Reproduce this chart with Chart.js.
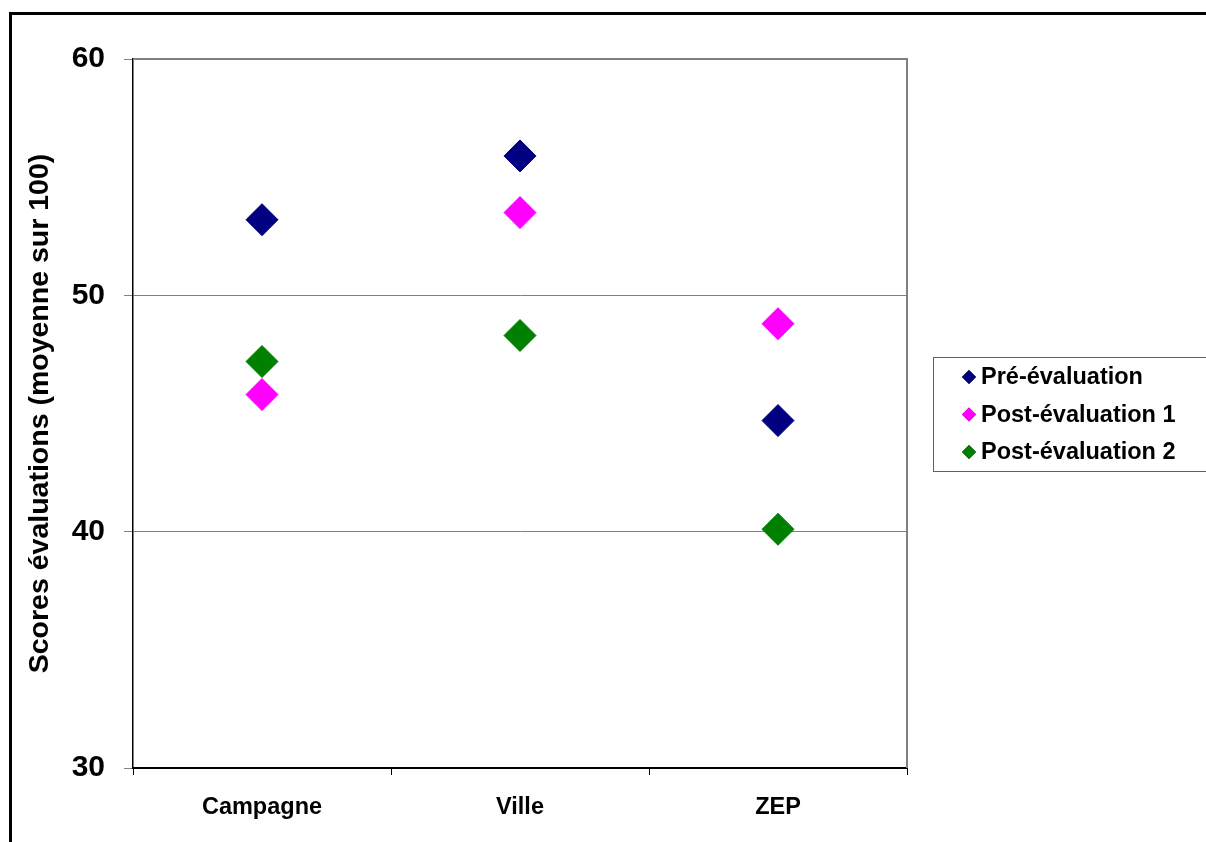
<!DOCTYPE html>
<html>
<head>
<meta charset="utf-8">
<script src="https://cdn.jsdelivr.net/npm/chart.js@4.4.1/dist/chart.umd.min.js"></script>
<style>
  html, body { margin: 0; padding: 0; background: #fff; }
  #wrap { width: 1206px; height: 842px; }
</style>
</head>
<body>
<div id="wrap"><canvas id="scoresChart" width="1206" height="842"></canvas></div>
<script>
const categories = ['Campagne', 'Ville', 'ZEP'];
const seriesLabels = ['Pré-évaluation', 'Post-évaluation 1', 'Post-évaluation 2'];
const preEvaluation = [53.2, 55.9, 44.7];
const postEvaluation1 = [45.8, 53.5, 48.8];
const postEvaluation2 = [47.2, 48.3, 40.1];
const yTickValues = [30, 40, 50, 60];
const seriesColors = ['#000080', '#FF00FF', '#008000'];

const FONT = "'Liberation Sans', Arial, sans-serif";

// cadre noir autour du graphique + bordure grise de la zone de tracé
const framePlugin = {
  id: 'frame',
  beforeDraw(chart) {
    const ctx = chart.ctx;
    ctx.save();
    ctx.fillStyle = '#fff';
    ctx.fillRect(0, 0, chart.width, chart.height);
    ctx.strokeStyle = '#000';
    ctx.lineWidth = 3;
    ctx.strokeRect(10.5, 13.5, 1400, 1000);
    ctx.restore();
  },
  beforeDatasetsDraw(chart) {
    const { ctx, chartArea: a } = chart;
    ctx.save();
    ctx.strokeStyle = '#808080';
    ctx.lineWidth = 2;
    ctx.beginPath();
    ctx.moveTo(a.left, a.top);
    ctx.lineTo(a.right, a.top);
    ctx.lineTo(a.right, a.bottom);
    ctx.stroke();
    ctx.restore();
  }
};

// légende encadrée à droite
const boxLegendPlugin = {
  id: 'boxLegend',
  afterDraw(chart) {
    const ctx = chart.ctx;
    const box = { x: 933.5, y: 357.5, w: 400, h: 114 };
    ctx.save();
    ctx.strokeStyle = '#606060';
    ctx.lineWidth = 1;
    ctx.strokeRect(box.x, box.y, box.w, box.h);
    ctx.font = 'bold 23.5px ' + FONT;
    ctx.textBaseline = 'middle';
    ctx.fillStyle = '#000';
    chart.data.datasets.forEach((ds, i) => {
      const y = 377 + i * 37.5;
      Chart.helpers.drawPoint(ctx, {
        pointStyle: 'rectRot', radius: 7, borderWidth: 0, rotation: 0
      }, 969, y);
      ctx.fillStyle = ds.backgroundColor;
      ctx.fill();
      ctx.fillStyle = '#000';
      ctx.fillText(ds.label, 981, y + 1);
    });
    ctx.restore();
  }
};

const seriesData = [preEvaluation, postEvaluation1, postEvaluation2];

new Chart(document.getElementById('scoresChart'), {
  type: 'line',
  data: {
    labels: categories,
    datasets: seriesData.map((values, i) => ({
      label: seriesLabels[i],
      data: values,
      showLine: false,
      pointStyle: 'rectRot',
      pointRadius: 16,
      pointHoverRadius: 16,
      pointBorderWidth: 1,
      backgroundColor: seriesColors[i],
      borderColor: seriesColors[i]
    }))
  },
  options: {
    responsive: false,
    animation: false,
    devicePixelRatio: 1,
    layout: { padding: { left: 0, top: 59, right: 299, bottom: 0 } },
    plugins: {
      legend: { display: false },
      tooltip: { enabled: false }
    },
    scales: {
      x: {
        type: 'category',
        offset: true,
        afterFit(scale) { scale.height = 74; },
        grid: {
          offset: true,
          drawOnChartArea: false,
          color: '#000',
          tickLength: 7
        },
        border: { color: '#000', width: 2 },
        ticks: {
          color: '#000',
          padding: 18,
          font: { family: FONT, size: 23.5, weight: 'bold' },
          maxRotation: 0
        }
      },
      y: {
        min: 30,
        max: 60,
        afterFit(scale) { scale.width = 133; },
        afterBuildTicks(scale) {
          scale.ticks = yTickValues.map(v => ({ value: v }));
        },
        grid: {
          color: '#808080',
          tickColor: '#808080',
          tickLength: 9,
          lineWidth: 1
        },
        border: { color: '#000', width: 1.5 },
        ticks: {
          color: '#000',
          padding: 19,
          font: { family: FONT, size: 30, weight: 'bold' }
        },
        title: {
          display: true,
          text: 'Scores évaluations (moyenne sur 100)',
          color: '#000',
          padding: { top: 23, bottom: 0 },
          font: { family: FONT, size: 28.5, weight: 'bold' }
        }
      }
    }
  },
  plugins: [framePlugin, boxLegendPlugin]
});
</script>
</body>
</html>
